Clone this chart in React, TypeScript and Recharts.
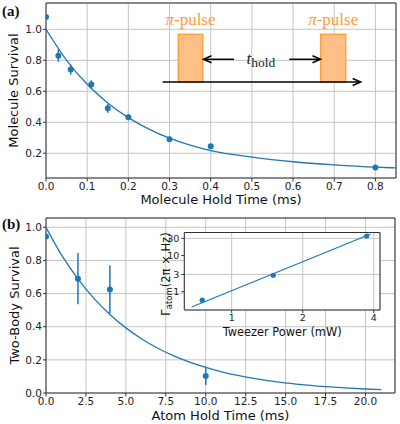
import {
  ComposedChart,
  Line,
  Scatter,
  ErrorBar,
  XAxis,
  YAxis,
  CartesianGrid,
  ReferenceArea,
} from "recharts";

const BLUE = "#1f77b4";
const ORANGE_TEXT = "#ff9a40";
const SANS = "'DejaVu Sans', sans-serif";
const SERIF = "'Liberation Serif', serif";
const GRID = "#c4c4c4";
const SPINE = "#333";

// (a) molecule survival vs hold time
const molTime = [0, 0.03, 0.06, 0.11, 0.15, 0.2, 0.3, 0.4, 0.8];
const molSurvival = [1.08, 0.83, 0.74, 0.643, 0.49, 0.433, 0.29, 0.245, 0.107];
const molErr = [0.01, 0.04, 0.033, 0.028, 0.028, 0.02, 0.012, 0.012, 0.006];
const molFitTime = [0, 0.05, 0.1, 0.15, 0.2, 0.25, 0.3, 0.35, 0.4, 0.5, 0.6, 0.7, 0.8, 0.85];
const molFit = [1.0, 0.8, 0.645, 0.525, 0.43, 0.356, 0.297, 0.252, 0.217, 0.175, 0.145, 0.125, 0.11, 0.105];
const molTicksX = [0, 0.1, 0.2, 0.3, 0.4, 0.5, 0.6, 0.7, 0.8];
const molTicksY = [0.2, 0.4, 0.6, 0.8, 1.0];

// (b) two-body survival vs atom hold time
const atomTime = [0, 2, 4, 10];
const atomSurvival = [0.945, 0.69, 0.625, 0.103];
const atomErr = [0.01, 0.155, 0.145, 0.055];
const atomFitTime = [0, 1, 2, 3, 4, 5, 6, 7, 8, 9, 10, 11, 12, 13, 14, 15, 16, 17, 18, 19, 20, 21];
const atomFit = [1.0, 0.829, 0.688, 0.571, 0.474, 0.393, 0.326, 0.27, 0.224, 0.186, 0.154, 0.128, 0.106, 0.088, 0.073, 0.061, 0.05, 0.042, 0.035, 0.029, 0.024, 0.02];
const atomTicksX = [0, 2.5, 5, 7.5, 10, 12.5, 15, 17.5, 20];
const atomTicksY = [0, 0.2, 0.4, 0.6, 0.8, 1.0];

// inset: atom loss rate vs tweezer power (log-log)
const power = [0.75, 1.5, 3.73];
const gamma = [0.58, 2.85, 34.9];
const gammaFitPower = [0.677, 3.88];
const gammaFit = [0.377, 39.6];
const powerTicks = [1, 2, 4];
const gammaTicks = [1, 3, 10, 30];

const zip = (xs: number[], ys: number[], es?: number[]) =>
  xs.map((x, i) => ({ x, y: ys[i], err: es ? es[i] : 0 }));

const molData = zip(molTime, molSurvival, molErr);
const molFitData = zip(molFitTime, molFit);
const atomData = zip(atomTime, atomSurvival, atomErr);
const atomFitData = zip(atomFitTime, atomFit);
const gammaData = zip(power, gamma);
const gammaFitData = zip(gammaFitPower, gammaFit);

const TICK = { fontSize: 10.5, fill: "#222", fontFamily: SANS };
const TITLE = { fontSize: 13, fill: "#111", fontFamily: SANS };

const Dot = (props: any) => {
  const { cx, cy } = props;
  if (cx == null || cy == null) return null;
  return <circle cx={cx} cy={cy} r={3} fill={BLUE} />;
};

const SmallDot = (props: any) => {
  const { cx, cy } = props;
  if (cx == null || cy == null) return null;
  return <circle cx={cx} cy={cy} r={2.6} fill={BLUE} />;
};

const fmt1 = (v: number) => v.toFixed(1);

const Arrow = ({ x1, x2, y }: { x1: number; x2: number; y: number }) => {
  const dir = x2 > x1 ? 1 : -1;
  return (
    <g stroke="#000" strokeWidth={1.5} fill="none">
      <line x1={x1} y1={y} x2={x2 - dir * 1} y2={y} />
      <path d={`M${x2 - dir * 8},${y - 3.5} L${x2},${y} L${x2 - dir * 8},${y + 3.5}`} />
    </g>
  );
};

const App = () => {
  return (
    <div style={{ position: "absolute", left: 0, top: 0, width: 400, height: 424, background: "#fff" }}>
      {/* (a) */}
      <div style={{ position: "absolute", left: 0, top: 0 }}>
        <ComposedChart width={400} height={210} margin={{ top: 3, right: 4, bottom: 2, left: 6 }}>
          <CartesianGrid stroke={GRID} />
          <XAxis
            type="number"
            dataKey="x"
            domain={[0, 0.85]}
            ticks={molTicksX}
            allowDataOverflow
            tickFormatter={fmt1}
            tick={TICK}
            tickSize={3.5}
            tickMargin={1.5}
            axisLine={false}
            tickLine={{ stroke: SPINE }}
            height={30}
            label={{ value: "Molecule Hold Time (ms)", position: "insideBottom", offset: 4, ...TITLE }}
          />
          <YAxis
            type="number"
            dataKey="y"
            domain={[0.04, 1.17]}
            ticks={molTicksY}
            allowDataOverflow
            tickFormatter={fmt1}
            tick={TICK}
            tickSize={3}
            tickMargin={1}
            axisLine={false}
            tickLine={{ stroke: SPINE }}
            width={40}
            label={{ value: "Molecule Survival", angle: -90, position: "insideLeft", offset: 7, style: { textAnchor: "middle" }, ...TITLE }}
          />
          <ReferenceArea x1={0} x2={0.85} y1={0.04} y2={1.17} fill="none" stroke={SPINE} strokeWidth={1} ifOverflow="visible" />
          <Line data={molFitData} dataKey="y" type="monotone" stroke={BLUE} strokeWidth={1.3} dot={false} isAnimationActive={false} />
          <Scatter data={molData} fill={BLUE} shape={Dot} isAnimationActive={false}>
            <ErrorBar dataKey="err" direction="y" width={0} stroke={BLUE} strokeWidth={1.5} />
          </Scatter>
        </ComposedChart>
      </div>

      {/* (b) */}
      <div style={{ position: "absolute", left: 0, top: 210 }}>
        <ComposedChart width={400} height={214} margin={{ top: 8, right: 5, bottom: 1, left: 6 }}>
          <CartesianGrid stroke={GRID} />
          <XAxis
            type="number"
            dataKey="x"
            domain={[0, 21.85]}
            ticks={atomTicksX}
            allowDataOverflow
            tickFormatter={fmt1}
            tick={TICK}
            tickSize={3.5}
            tickMargin={1.5}
            axisLine={false}
            tickLine={{ stroke: SPINE }}
            height={30}
            label={{ value: "Atom Hold Time (ms)", position: "insideBottom", offset: 3, ...TITLE }}
          />
          <YAxis
            type="number"
            dataKey="y"
            domain={[0, 1.056]}
            ticks={atomTicksY}
            allowDataOverflow
            tickFormatter={fmt1}
            tick={TICK}
            tickSize={3}
            tickMargin={1}
            axisLine={false}
            tickLine={{ stroke: SPINE }}
            width={40}
            label={{ value: "Two-Body Survival", angle: -90, position: "insideLeft", offset: 8, style: { textAnchor: "middle" }, ...TITLE }}
          />
          <ReferenceArea x1={0} x2={21.85} y1={0} y2={1.056} fill="none" stroke={SPINE} strokeWidth={1} ifOverflow="visible" />
          <Line data={atomFitData} dataKey="y" type="monotone" stroke={BLUE} strokeWidth={1.3} dot={false} isAnimationActive={false} />
          <Scatter data={atomData} fill={BLUE} shape={Dot} isAnimationActive={false}>
            <ErrorBar dataKey="err" direction="y" width={0} stroke={BLUE} strokeWidth={1.5} />
          </Scatter>
        </ComposedChart>
      </div>

      {/* inset */}
      <div style={{ position: "absolute", left: 140, top: 222 }}>
        <ComposedChart width={250} height={120} margin={{ top: 10.5, right: 10, bottom: 2, left: 20 }}>
          <CartesianGrid stroke={GRID} fill="#fff" />
          <XAxis
            type="number"
            dataKey="x"
            scale="log"
            domain={[0.63, 4.25]}
            ticks={powerTicks}
            allowDataOverflow
            tick={{ ...TICK, fontSize: 9.5 }}
            tickSize={3}
            tickMargin={1}
            axisLine={false}
            tickLine={{ stroke: SPINE }}
            height={30}
            label={{ value: "Tweezer Power (mW)", position: "insideBottom", offset: 4, ...TITLE, fontSize: 11.4 }}
          />
          <YAxis
            type="number"
            dataKey="y"
            scale="log"
            domain={[0.31, 43.6]}
            ticks={gammaTicks}
            allowDataOverflow
            tick={{ ...TICK, fontSize: 9.5 }}
            tickSize={3}
            tickMargin={2}
            axisLine={false}
            tickLine={{ stroke: SPINE }}
            width={24.3}
          />
          <ReferenceArea x1={0.63} x2={4.25} y1={0.31} y2={43.6} fill="none" stroke={SPINE} strokeWidth={1} ifOverflow="visible" />
          <Line data={gammaFitData} dataKey="y" type="linear" stroke={BLUE} strokeWidth={1.2} dot={false} isAnimationActive={false} />
          <Scatter data={gammaData} fill={BLUE} shape={SmallDot} isAnimationActive={false} />
        </ComposedChart>
      </div>

      {/* annotations */}
      <svg width={400} height={424} style={{ position: "absolute", left: 0, top: 0, pointerEvents: "none" }}>
        <text x={2} y={16} fontFamily={SERIF} fontWeight="bold" fontSize={15} fill="#111">(a)</text>
        <text x={2} y={228.5} fontFamily={SERIF} fontWeight="bold" fontSize={15} fill="#111">(b)</text>

        <rect x={178.3} y={34.3} width={24.4} height={47.7} fill="#ffbf87" stroke="#ffa040" strokeWidth={1.5} />
        <rect x={320.7} y={34.3} width={25} height={47.7} fill="#ffbf87" stroke="#ffa040" strokeWidth={1.5} />
        <text x={190.5} y={24.5} textAnchor="middle" fontFamily={SERIF} fontSize={17} fill={ORANGE_TEXT}>
          <tspan fontStyle="italic">π</tspan>-pulse
        </text>
        <text x={333.2} y={24.5} textAnchor="middle" fontFamily={SERIF} fontSize={17} fill={ORANGE_TEXT}>
          <tspan fontStyle="italic">π</tspan>-pulse
        </text>
        <Arrow x1={162.7} x2={360.7} y={82} />
        <Arrow x1={234} x2={203.5} y={59.3} />
        <Arrow x1={289.3} x2={320.5} y={59.3} />
        <text x={246.5} y={64} fontFamily={SERIF} fontSize={17} fill="#222">
          <tspan fontStyle="italic">t</tspan>
          <tspan fontSize={13.5} dy={3}>hold</tspan>
        </text>

        <text
          x={169.5}
          y={274}
          textAnchor="middle"
          fontFamily={SANS}
          fontSize={11.5}
          fill="#111"
          transform="rotate(-90 169.5 274)"
        >
          Γ<tspan fontSize={8.5} dy={2.5}>atom</tspan>
          <tspan dy={-2.5}>(2π × Hz)</tspan>
        </text>
      </svg>
    </div>
  );
};

export default App;
